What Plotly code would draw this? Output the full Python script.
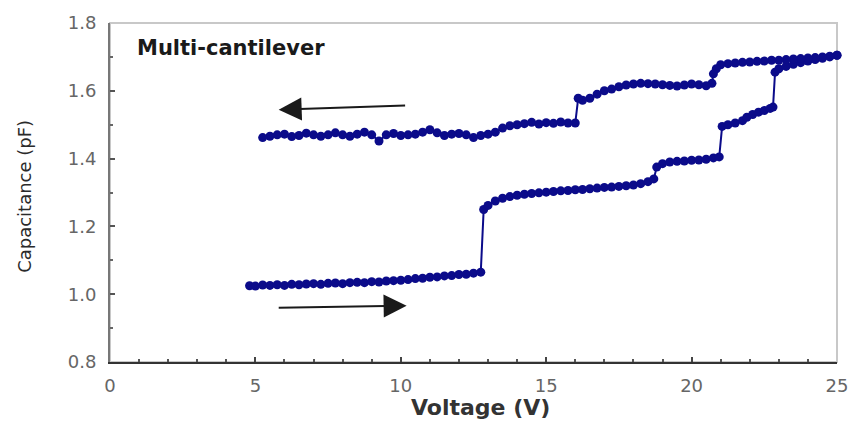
import plotly.graph_objects as go

# Forward sweep (increasing voltage)
fwd_v = [4.8, 5.0, 5.25, 5.5, 5.75, 6.0, 6.25, 6.5, 6.75, 7.0, 7.25, 7.5, 7.75, 8.0, 8.25, 8.5,
         8.75, 9.0, 9.25, 9.5, 9.75, 10.0, 10.25, 10.5, 10.75, 11.0, 11.25, 11.5, 11.75, 12.0,
         12.25, 12.5, 12.75, 12.85, 13.0, 13.25, 13.5, 13.75, 14.0, 14.25, 14.5, 14.75, 15.0,
         15.25, 15.5, 15.75, 16.0, 16.25, 16.5, 16.75, 17.0, 17.25, 17.5, 17.75, 18.0, 18.25,
         18.5, 18.7, 18.8, 19.0, 19.25, 19.5, 19.75, 20.0, 20.25, 20.5, 20.75, 20.95, 21.05,
         21.25, 21.5, 21.75, 21.9, 22.1, 22.3, 22.5, 22.7, 22.8, 22.87, 23.0, 23.25, 23.5,
         23.75, 24.0, 24.25, 24.5, 24.75, 25.0]
fwd_c = [1.025, 1.024, 1.027, 1.026, 1.028, 1.026, 1.029, 1.028, 1.030, 1.031, 1.029, 1.032,
         1.033, 1.031, 1.034, 1.035, 1.034, 1.037, 1.036, 1.039, 1.040, 1.041, 1.043, 1.046,
         1.047, 1.050, 1.051, 1.054, 1.055, 1.058, 1.059, 1.062, 1.065, 1.250, 1.262, 1.275,
         1.283, 1.288, 1.292, 1.295, 1.297, 1.299, 1.301, 1.303, 1.305, 1.306, 1.308, 1.309,
         1.311, 1.313, 1.315, 1.316, 1.318, 1.320, 1.322, 1.326, 1.332, 1.340, 1.375, 1.385,
         1.390, 1.392, 1.393, 1.395, 1.396, 1.398, 1.402, 1.405, 1.495, 1.500, 1.505, 1.512,
         1.522, 1.530, 1.537, 1.542, 1.548, 1.552, 1.655, 1.665, 1.672, 1.678, 1.683, 1.688,
         1.692, 1.696, 1.700, 1.705]

# Backward sweep (decreasing voltage)
bwd_v = [25.0, 24.75, 24.5, 24.25, 24.0, 23.75, 23.5, 23.25, 23.0, 22.75, 22.5, 22.25, 22.0,
         21.75, 21.5, 21.25, 21.0, 20.85, 20.75, 20.7, 20.5, 20.25, 20.0, 19.75, 19.5, 19.25,
         19.0, 18.75, 18.5, 18.25, 18.0, 17.75, 17.5, 17.25, 17.0, 16.75, 16.5, 16.25, 16.1,
         16.0, 15.75, 15.5, 15.25, 15.0, 14.75, 14.5, 14.25, 14.0, 13.75, 13.5, 13.25, 13.0,
         12.75, 12.5, 12.25, 12.0, 11.75, 11.5, 11.25, 11.0, 10.75, 10.5, 10.25, 10.0, 9.75,
         9.5, 9.25, 9.0, 8.75, 8.5, 8.25, 8.0, 7.75, 7.5, 7.25, 7.0, 6.75, 6.5, 6.25, 6.0,
         5.75, 5.5, 5.25]
bwd_c = [1.705, 1.702, 1.700, 1.698, 1.697, 1.695, 1.694, 1.692, 1.690, 1.690, 1.688, 1.687,
         1.685, 1.684, 1.682, 1.680, 1.677, 1.665, 1.650, 1.622, 1.615, 1.618, 1.620, 1.617,
         1.614, 1.616, 1.618, 1.620, 1.621, 1.622, 1.620, 1.617, 1.612, 1.605, 1.600, 1.590,
         1.578, 1.572, 1.578, 1.505, 1.505, 1.508, 1.504, 1.506, 1.502, 1.507, 1.503, 1.500,
         1.497, 1.490, 1.478, 1.472, 1.468, 1.462, 1.470, 1.474, 1.472, 1.468, 1.476, 1.485,
         1.478, 1.472, 1.470, 1.468, 1.474, 1.470, 1.452, 1.470, 1.478, 1.472, 1.466, 1.470,
         1.476, 1.470, 1.466, 1.470, 1.475, 1.468, 1.465, 1.472, 1.470, 1.466, 1.462]

x_ticks = [0, 5, 10, 15, 20, 25]
y_ticks = [0.8, 1.0, 1.2, 1.4, 1.6, 1.8]
y_tick_text = ["0.8", "1.0", "1.2", "1.4", "1.6", "1.8"]

# arrows: (tail_v, tail_c, tip_v, tip_c)
arrow_back = (10.2, 1.557, 5.8, 1.544)
arrow_fwd = (5.75, 0.960, 10.2, 0.966)

navy = "#0b0b8a"
fig = go.Figure()
for xs, ys in [(fwd_v, fwd_c), (bwd_v, bwd_c)]:
    fig.add_trace(go.Scatter(
        x=xs, y=ys, mode="lines+markers",
        line=dict(color=navy, width=2),
        marker=dict(color=navy, size=9, symbol="circle"),
        cliponaxis=False, showlegend=False,
    ))

for (tv, tc, hv, hc) in [arrow_back, arrow_fwd]:
    fig.add_annotation(
        x=hv, y=hc, ax=tv, ay=tc, xref="x", yref="y", axref="x", ayref="y",
        text="", showarrow=True, arrowhead=2, arrowsize=2.3, arrowwidth=2,
        arrowcolor="#1a1a1a",
    )

fig.add_annotation(
    text="Multi-cantilever", xref="paper", yref="paper", x=0.034, y=0.927,
    xanchor="left", yanchor="middle", showarrow=False,
    font=dict(family="DejaVu Sans", size=21, color="#1a1a1a", weight="bold"),
)
fig.add_annotation(
    text="Voltage (V)", xref="paper", yref="paper", x=0.51, y=-0.133,
    xanchor="center", yanchor="middle", showarrow=False,
    font=dict(family="DejaVu Sans", size=22, color="#333333", weight="bold"),
)
fig.add_annotation(
    text="Capacitance (pF)", xref="paper", yref="paper", x=-0.117, y=0.49,
    xanchor="center", yanchor="middle", showarrow=False, textangle=-90,
    font=dict(family="DejaVu Sans", size=18, color="#2a2a2a"),
)

# light frame for top / right
fig.add_shape(type="rect", xref="paper", yref="paper", x0=0, y0=0, x1=1, y1=1,
              line=dict(color="#c8c8c8", width=2), layer="below")

tickfont = dict(family="DejaVu Sans", size=18, color="#666666")
fig.update_xaxes(
    range=[0, 25], tickvals=x_ticks, ticktext=[str(v) for v in x_ticks],
    showgrid=False, zeroline=False, showline=True, linecolor="#333333", linewidth=2,
    ticks="inside", ticklen=5, tickwidth=1.5, tickcolor="#444444",
    minor=dict(dtick=1, ticks="inside", ticklen=3, tickwidth=1.5, tickcolor="#555555"),
    tickfont=tickfont, ticklabelstandoff=6,
)
fig.update_yaxes(
    range=[0.8, 1.8], tickvals=y_ticks, ticktext=y_tick_text,
    showgrid=False, zeroline=False, showline=True, linecolor="#777777", linewidth=2,
    ticks="inside", ticklen=5, tickwidth=1.5, tickcolor="#555555",
    minor=dict(dtick=0.1, ticks="inside", ticklen=3, tickwidth=1.5, tickcolor="#666666"),
    tickfont=tickfont, ticklabelstandoff=8,
)
fig.update_layout(
    width=860, height=421,
    margin=dict(l=110, r=20, t=19, b=59),
    plot_bgcolor="white", paper_bgcolor="white",
)
fig.write_html("out.html")
